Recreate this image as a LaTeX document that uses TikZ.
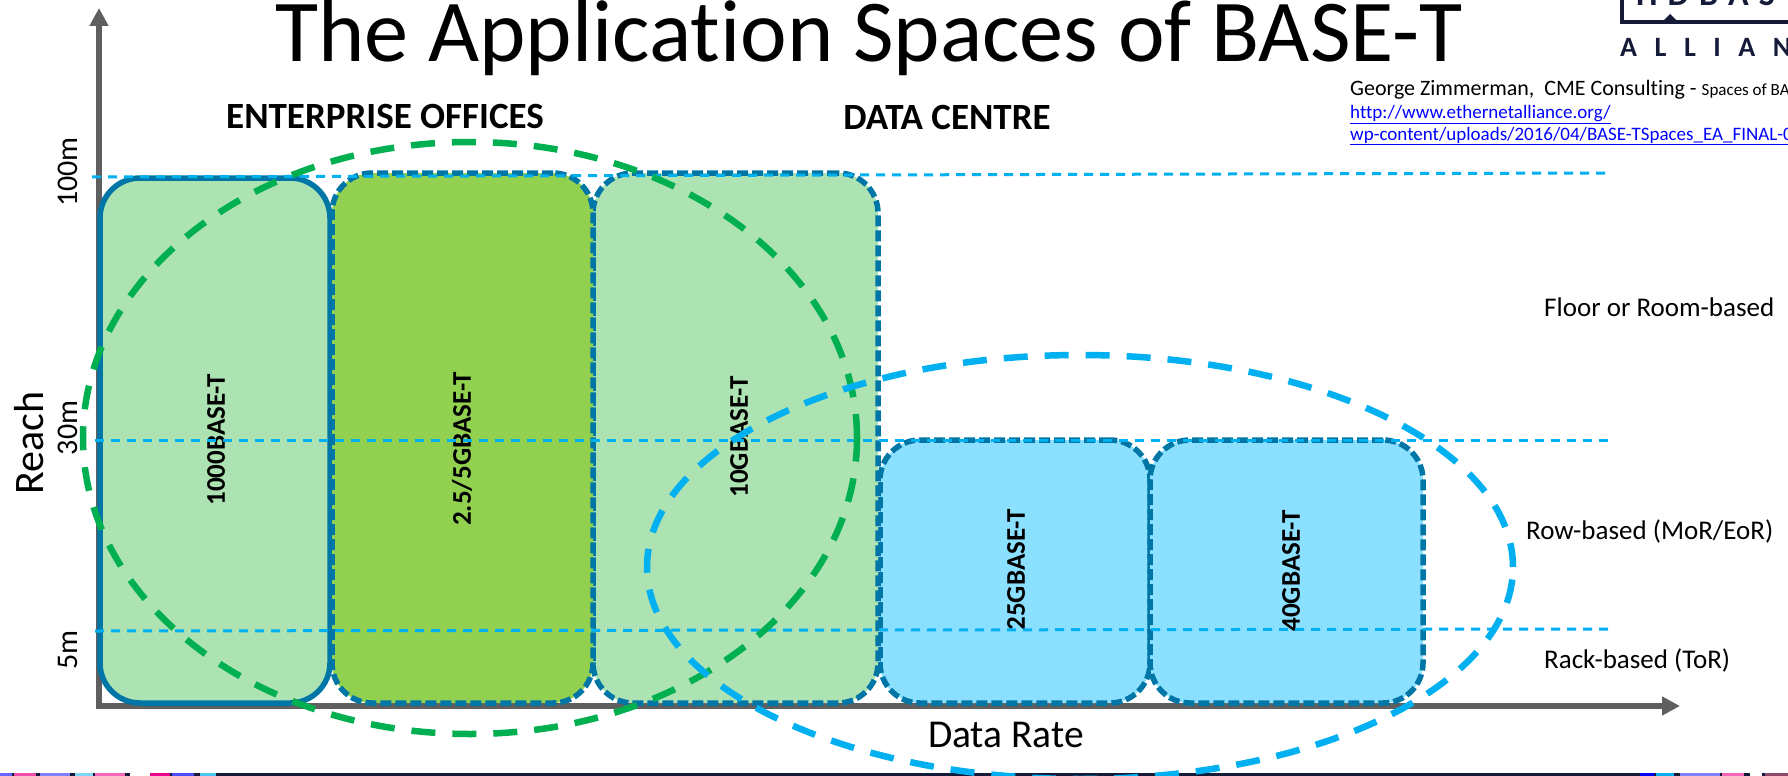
\documentclass[tikz,border=0pt]{standalone}
\usepackage{fontspec}
\setmainfont[Ligatures=NoCommon]{Carlito}
\usetikzlibrary{shapes.geometric,arrows.meta}
\definecolor{boxline}{HTML}{0076A6}
\definecolor{lgreen}{HTML}{ADE2B3}
\definecolor{mgreen}{HTML}{92D14F}
\definecolor{lblue}{HTML}{8BDFFF}
\definecolor{cyanline}{HTML}{00B0F0}
\definecolor{greenline}{HTML}{00B050}
\definecolor{axisgrey}{HTML}{5F5F5F}
\definecolor{navy}{HTML}{141A38}
\newcommand{\fs}[1]{\fontsize{#1}{#1}\selectfont}
\tikzset{
  rate/.style={draw=boxline,line width=5.5pt,rounded corners=40pt,inner sep=0pt,outer sep=0pt,anchor=north west},
  ratedash/.style={rate,dash pattern=on 11pt off 4pt},
  ratelabel/.style={rotate=90,font=\fs{27}\bfseries,inner sep=0pt},
  axisline/.style={draw=axisgrey,line width=6pt,-{Triangle[length=18pt,width=18pt]}},
  level/.style={draw=cyanline,line width=3pt,dash pattern=on 9pt off 7pt},
  space/.style={ellipse,inner sep=0pt,outer sep=0pt,line width=6.5pt,dash pattern=on 24pt off 17pt},
  dist/.style={rotate=90,font=\fs{30},inner sep=0pt},
  side/.style={anchor=west,font=\fs{27},inner sep=0pt},
  head/.style={font=\fs{37}\bfseries,inner sep=0pt},
  cite/.style={anchor=west,font=\fs{19},inner sep=0pt},
  link/.style={cite,text=blue},
}
\begin{document}
\begin{tikzpicture}[x=1pt,y=-1pt]
\useasboundingbox (0,0) rectangle (1788,776);
% bottom strip
\fill[navy] (0,773) rectangle (1788,776);
\foreach \xa/\w/\c in {0/12/blue!60,14/22/magenta!70,40/30/blue!50!white,75/18/cyan!50,95/30/magenta!60,130/20/white,150/20/magenta,172/22/blue!70,200/16/cyan!70,
  1640/14/blue,1656/18/cyan,1680/40/blue!50,1722/22/magenta!60,1750/12/white,1765/23/magenta!50!black}
  \fill[\c] (\xa,773) rectangle ++(\w,3);
% axes
\coordinate (o) at (99,706);
\coordinate (ytip) at (99,8);
\coordinate (xtip) at (1680,706);
\draw[axisline] (o) -- (ytip);
\draw[axisline] ([xshift=-3pt]o) -- (xtip);
% boxes
\node[rate,fill=lgreen,minimum width=230pt,minimum height=525pt] (b1) at (100,178) {};
\node[ratedash,fill=lblue,minimum width=270pt,minimum height=263pt] (b4) at (880,440) {};
\node[ratedash,fill=lblue,minimum width=273pt,minimum height=263pt] (b5) at (1150,440) {};
\node[ratedash,fill=lgreen,minimum width=285pt,minimum height=530pt] (b3) at (593,173) {};
\node[ratedash,fill=mgreen,minimum width=261pt,minimum height=530pt] (b2) at (332,173) {};
\node[ratelabel] (l1) at (216,440) {1000BASE-T};
\node[ratelabel] (l2) at (462,449) {2.5/5GBASE-T};
\node[ratelabel] (l3) at (739,437) {10GBASE-T};
\node[ratelabel] (l4) at (1016,570) {25GBASE-T};
\node[ratelabel] (l5) at (1291,571) {40GBASE-T};
% levels
\coordinate (a1) at (92,177); \coordinate (a2) at (1608,173);
\coordinate (c1) at (95,440); \coordinate (c2) at (1610,440);
\coordinate (d1) at (95,631); \coordinate (d2) at (1608,629);
\draw[level] (a1) -- (a2);
\draw[level] (c1) -- (c2);
\draw[level] (d1) -- (d2);
% spaces
\node[space,draw=greenline,minimum width=774pt,minimum height=592pt] (enterprise) at (470,438) {};
\node[space,draw=cyanline,minimum width=866pt,minimum height=424pt] (datacentre) at (1080,567) {};
% texts
\node[inner sep=0pt,anchor=base,font=\fs{88.3}] (title) at (869,62) {The Application Spaces of BASE-T};
\node[head] (h1) at (385,116) {ENTERPRISE OFFICES};
\node[head] (h2) at (947,117) {DATA CENTRE};
\node[rotate=90,font=\fs{42},inner sep=0pt] (reach) at (29,443) {Reach};
\node[dist] (m100) at (68,172) {100m};
\node[dist] (m30) at (68,428) {30m};
\node[dist] (m5) at (68,650) {5m};
\node[side] (s1) at (1544,307) {Floor or Room-based};
\node[side] (s2) at (1526,531) {Row-based (MoR/EoR)};
\node[side] (s3) at (1544,660) {Rack-based (ToR)};
\node[font=\fs{39.5},inner sep=0pt] (rate) at (1006,735) {Data Rate};
\node[cite] (c1t) at (1350,90) {\fs{22}George Zimmerman,\ \ CME Consulting - {\fs{17}Spaces of BA}};
\node[link] (c2t) at (1350,115) {\underline{http://www.ethernetalliance.org/}};
\node[link] (c3t) at (1350,136) {\underline{wp-content/uploads/2016/04/BASE-TSpaces\_EA\_FINAL-0}};
% logo
\draw[navy,line width=4pt] (1622,0) -- (1622,22) -- (1788,22);
\fill[navy] (1664,20) -- (1670,14) -- (1676,20) -- cycle;
\node[anchor=base west,inner sep=0pt,text=navy,font=\fs{28}\bfseries] (ally) at (1620,57) {A\hspace{17.5pt}L\hspace{17.5pt}L\hspace{17.5pt}I\hspace{17.5pt}A\hspace{17.5pt}N};
\begin{scope}
\clip (1630,0) rectangle (1788,8);
\node[anchor=base west,inner sep=0pt,text=navy,font=\fs{34}\bfseries] (hd) at (1636,6) {H\hspace{10pt}D\hspace{10pt}B\hspace{10pt}A\hspace{10pt}S};
\end{scope}
\end{tikzpicture}
\end{document}
